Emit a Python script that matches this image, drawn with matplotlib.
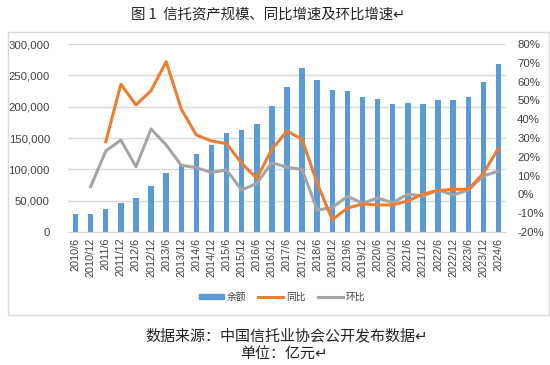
import matplotlib
matplotlib.use("Agg")
import matplotlib.pyplot as plt
from matplotlib.patches import Rectangle
from matplotlib.lines import Line2D
from matplotlib.ticker import FuncFormatter, MultipleLocator
import numpy as np

plt.rcParams['font.family'] = ['Liberation Sans', 'Noto Sans CJK SC', 'DejaVu Sans']

categories = ["2010/6", "2010/12", "2011/6", "2011/12", "2012/6", "2012/12", "2013/6", "2013/12",
              "2014/6", "2014/12", "2015/6", "2015/12", "2016/6", "2016/12", "2017/6", "2017/12",
              "2018/6", "2018/12", "2019/6", "2019/12", "2020/6", "2020/12", "2021/6", "2021/12",
              "2022/6", "2022/12", "2023/6", "2023/12", "2024/6"]

balance = [28200, 29000, 36500, 46500, 53500, 74000, 93800, 106500,
           124500, 139300, 157500, 162800, 172000, 201000, 231000, 261500,
           242000, 226000, 224300, 215500, 212200, 205000, 205300, 204500,
           210800, 210600, 216000, 238800, 268800]

yoy = [None, None, 28.0, 58.6, 47.6, 55.2, 70.6, 45.4,
       31.6, 28.4, 27.0, 16.5, 8.6, 24.0, 33.7, 29.3,
       5.9, -13.5, -7.3, -5.1, -5.6, -5.6, -3.5, 0.2,
       2.0, 2.7, 2.7, 11.2, 24.5]

qoq = [None, 4.1, 23.1, 28.9, 14.7, 34.8, 26.3, 15.5,
       14.2, 11.7, 13.0, 2.3, 5.9, 16.9, 14.4, 13.3,
       -8.3, -7.1, -1.0, -4.7, -1.9, -4.4, 0.2, -0.9,
       2.3, -0.3, 2.3, 9.8, 12.4]

title = "图 1  信托资产规模、同比增速及环比增速↵"
legend_labels = ["余额", "同比", "环比"]
source_text = "数据来源：中国信托业协会公开发布数据↵"
unit_text = "单位：亿元↵"

W, H = 550, 365
fig = plt.figure(figsize=(W / 100, H / 100), dpi=100)

def fx(px):
    return px / W

def fy(py):
    return 1 - py / H

# outer frame
fig.patches.append(Rectangle((fx(8), fy(315)), fx(541), (315 - 32) / H, transform=fig.transFigure,
                             fill=False, edgecolor="#D9D9D9", linewidth=1.0))

left, right, top, bottom = 68, 506, 44, 232
ax = fig.add_axes([fx(left), fy(bottom), fx(right - left), (bottom - top) / H])
x = np.arange(len(categories))
ax.bar(x, balance, width=0.36, color="#5B9BD5", zorder=2)
ax.set_xlim(-0.5, len(categories) - 0.5)
ax.set_ylim(0, 300000)
ax.yaxis.set_major_locator(MultipleLocator(50000))
ax.yaxis.set_major_formatter(FuncFormatter(lambda v, p: f"{int(v):,}"))
ax.grid(axis="y", color="#D9D9D9", linewidth=1.0, zorder=0)
ax.set_axisbelow(True)
for s in ["top", "right", "left"]:
    ax.spines[s].set_visible(False)
ax.spines["bottom"].set_color("#D9D9D9")
ax.set_xticks(x)
ax.set_xticklabels(categories, rotation=90, fontsize=7.8, color="#404040")
ax.tick_params(axis="both", length=0, pad=4)
ax.tick_params(axis="y", labelsize=8.2, colors="#404040", pad=13)

ax2 = ax.twinx()
yo = np.array([np.nan if v is None else v / 100 for v in yoy])
qo = np.array([np.nan if v is None else v / 100 for v in qoq])
ax2.plot(x, yo, color="#ED7D31", linewidth=2.2, solid_joinstyle="round", zorder=4)
ax2.plot(x, qo, color="#A5A5A5", linewidth=2.2, solid_joinstyle="round", zorder=3)
ax2.set_ylim(-0.2, 0.8)
ax2.yaxis.set_major_locator(MultipleLocator(0.1))
ax2.yaxis.set_major_formatter(FuncFormatter(lambda v, p: f"{round(v * 100):d}%"))
ax2.tick_params(axis="y", length=0, labelsize=8.2, colors="#404040", pad=8)
for s in ["top", "right", "left", "bottom"]:
    ax2.spines[s].set_visible(False)

handles = [Rectangle((0, 0), 1, 1, color="#5B9BD5"),
           Line2D([], [], color="#ED7D31", linewidth=2.2),
           Line2D([], [], color="#A5A5A5", linewidth=2.2)]
fig.legend(handles, legend_labels, loc="center", bbox_to_anchor=(fx(282), fy(297)), ncol=3,
           frameon=False, fontsize=7, handlelength=2.6, handleheight=0.5, columnspacing=1.2,
           handletextpad=0.3, labelcolor="#404040",
           prop={"family": ["Noto Sans CJK SC", "DejaVu Sans"], "size": 7})

cjk = ["Noto Sans CJK SC", "DejaVu Sans"]
fig.text(fx(268), fy(14), title, ha="center", va="center", fontsize=10.4, family=cjk, color="#222222")
fig.text(fx(287), fy(336), source_text, ha="center", va="center", fontsize=10.8, family=cjk, color="#222222")
fig.text(fx(284), fy(355), unit_text, ha="center", va="center", fontsize=10.8, family=cjk, color="#222222")

fig.savefig("out.png", dpi=100)
